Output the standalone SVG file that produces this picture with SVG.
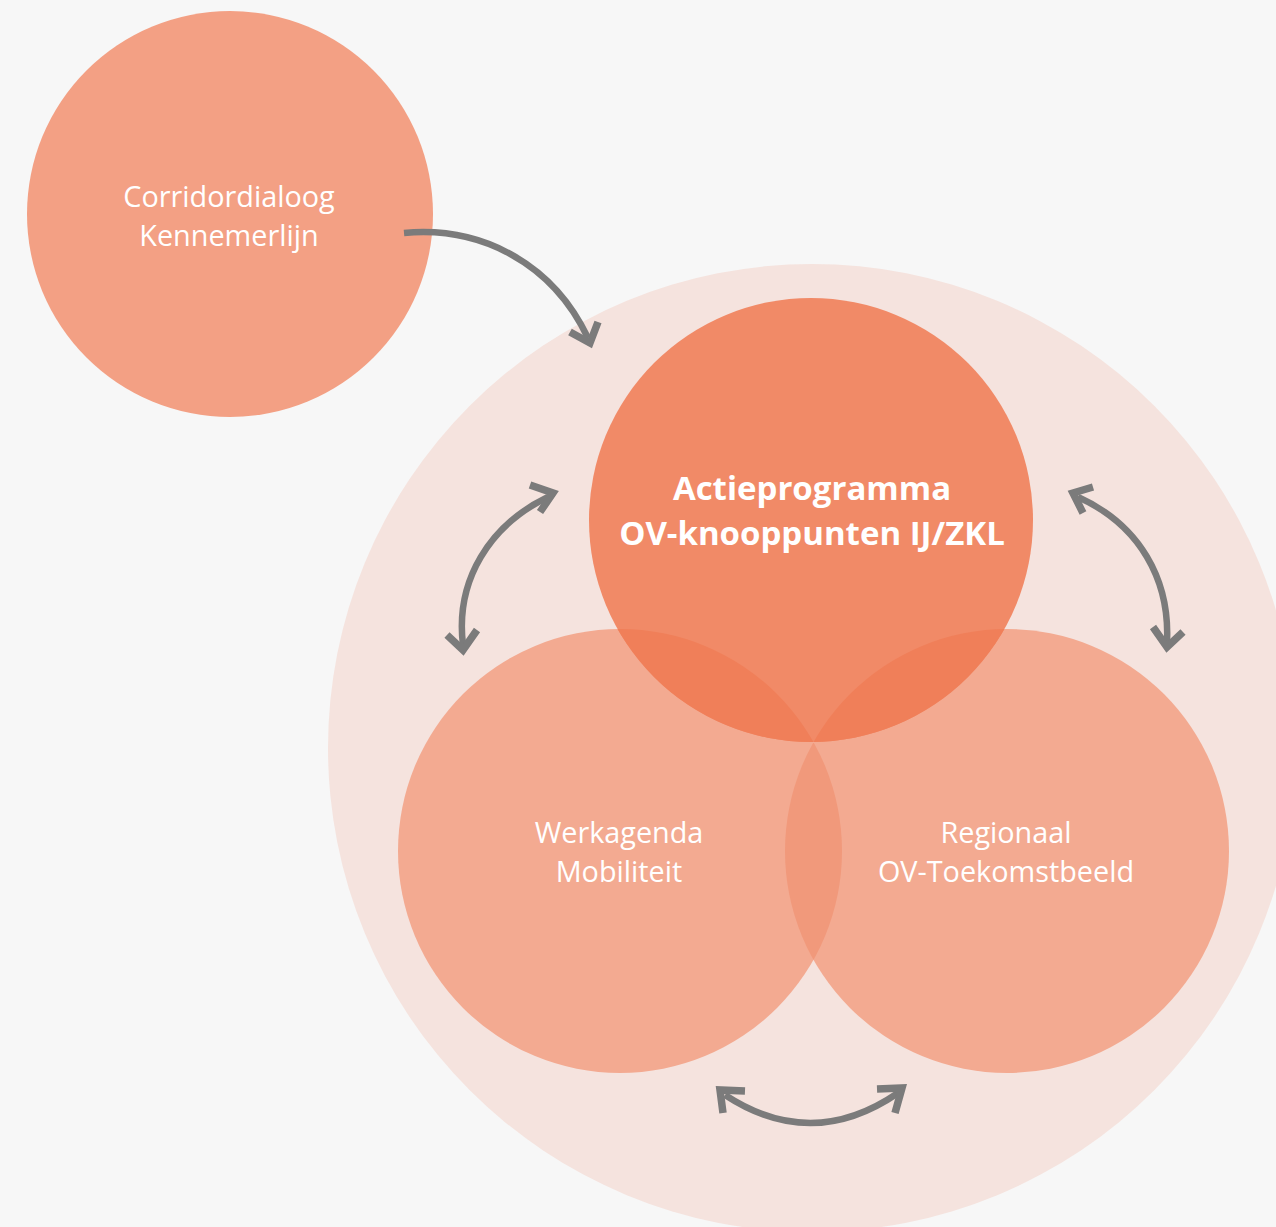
<svg xmlns="http://www.w3.org/2000/svg" width="1276" height="1227" viewBox="0 0 1276 1227">
<style>
.lbl{font-family:"Open Sans","Noto Sans","Liberation Sans",sans-serif;fill:#ffffff;text-anchor:middle;font-size:28.8px}
.bold{font-weight:bold;font-size:33px}
.arr{fill:none;stroke:#7b7b7b;stroke-width:6.5}
.head{fill:none;stroke:#7b7b7b;stroke-width:7.5;stroke-linejoin:miter}
</style>
<defs>
<clipPath id="cL"><circle cx="620" cy="851" r="222"/></clipPath>
<clipPath id="cR"><circle cx="1007" cy="851" r="222"/></clipPath>
<clipPath id="cT"><circle cx="811" cy="520" r="222"/></clipPath>
</defs>
<rect width="1276" height="1227" fill="#f7f7f7"/>
<g id="outer"><circle cx="812" cy="748" r="484" fill="#f5e3de"/></g>
<g id="corridor">
<circle cx="230" cy="214" r="203" fill="#f3a084"/>
<text class="lbl" x="229" y="207">Corridordialoog</text>
<text class="lbl" x="229" y="246">Kennemerlijn</text>
</g>
<g id="werkagenda">
<circle cx="620" cy="851" r="222" fill="#f3aa91"/>
<text class="lbl" x="619" y="843">Werkagenda</text>
<text class="lbl" x="619" y="882">Mobiliteit</text>
</g>
<g id="regionaal">
<circle cx="1007" cy="851" r="222" fill="#f3aa91"/>
<circle cx="620" cy="851" r="222" fill="#f1997b" clip-path="url(#cR)"/>
<text class="lbl" x="1006" y="843">Regionaal</text>
<text class="lbl" x="1006" y="882">OV-Toekomstbeeld</text>
</g>
<g id="actieprogramma">
<circle cx="811" cy="520" r="222" fill="#f18a67"/>
<circle cx="620" cy="851" r="222" fill="#f07f59" clip-path="url(#cT)"/>
<circle cx="1007" cy="851" r="222" fill="#f07f59" clip-path="url(#cT)"/>
<text class="lbl bold" x="812" y="500">Actieprogramma</text>
<text class="lbl bold" x="812" y="545">OV-knooppunten IJ/ZKL</text>
</g>
<g id="connectors">
<path class="arr" d="M404,233 C480,226 552,262 588,338"/>
<polyline class="head" points="570,332 590,343 598,322"/>
<path class="arr" d="M548,497 C490,525 455,580 463,645"/>
<polyline class="head" points="530,485 553,493 540,512"/>
<polyline class="head" points="447,635 463,650 477,630"/>
<path class="arr" d="M1078,497 C1140,525 1170,580 1167,642"/>
<polyline class="head" points="1093,487 1073,493 1083,513"/>
<polyline class="head" points="1153,627 1167,647 1183,632"/>
<path class="arr" d="M725,1095 Q812,1152 898,1093"/>
<polyline class="head" points="745,1091 720,1090 723,1113"/>
<polyline class="head" points="877,1089 902,1088 895,1113"/>
</g>
</svg>
